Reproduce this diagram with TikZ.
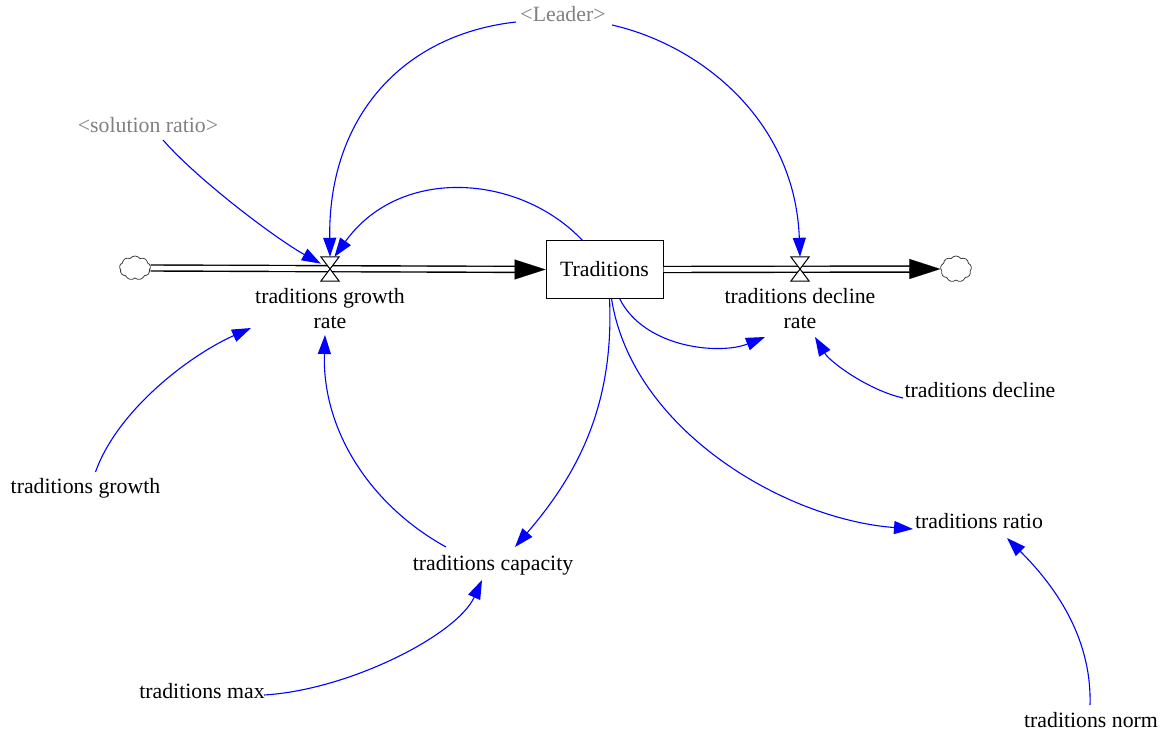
\documentclass[tikz,border=0pt]{standalone}
\usepackage{fontspec}
\setmainfont{Liberation Serif}
\newfontfamily\diagramfont{Liberation Serif}
\usetikzlibrary{arrows.meta,calc,shapes.symbols}
\definecolor{shadowgray}{RGB}{128,128,128}
\definecolor{linkblue}{RGB}{0,0,255}
\begin{document}
\begin{tikzpicture}[x=1pt,y=-1pt,
  every node/.style={font=\diagramfont\fontsize{21.8}{25}\selectfont},
  lbl/.style={anchor=base, inner sep=0pt, align=center},
  shadow/.style={lbl, text=shadowgray},
  link/.style={draw=linkblue, line width=1.1pt, -{Triangle[length=19pt,width=13pt]}},
  pipe/.style={draw=black, double=white, double distance=4.6pt, line width=1.4pt},
  flowhead/.style={line width=0.1pt, -{Triangle[length=31pt,width=20pt]}},
  stock/.style={draw, line width=1pt, minimum width=117pt, minimum height=57pt, inner sep=0pt},
  valve/.style={minimum width=18pt, minimum height=24pt, inner sep=0pt},
  source/.style={cloud, cloud puffs=9, cloud puff arc=110, aspect=1.3, draw=black!75, line width=0.8pt,
    minimum width=31pt, minimum height=24pt, inner sep=0pt, fill=white}]
\useasboundingbox (0,0) rectangle (1174,735);

% stock, clouds and valves
\node[stock] (trad) at (604.5,269.5) {Traditions};
\node[source] (cl) at (135,268) {};
\node[source, minimum height=26pt] (cr) at (956,269) {};
\node[valve] (gv) at (330,269) {};
\node[valve] (dv) at (800,269) {};

% flow pipes
\draw[pipe, shorten >=29pt] (cl.east) -- (trad.west);
\draw[flowhead] ([xshift=-31pt]trad.west) -- (trad.west);
\draw[pipe, shorten >=29pt] (trad.east) -- (cr.west);
\draw[flowhead] ([xshift=-31pt]cr.west) -- (cr.west);

% valve bow-ties
\foreach \v in {gv,dv}
  \filldraw[fill=white, draw=black, line width=1pt, line join=miter]
    (\v.north west) -- (\v.north east) -- (\v.south west) -- (\v.south east) -- cycle;

% variable names
\node[shadow] (sol) at (148,133) {<solution ratio>};
\node[shadow] (leader) at (563,22) {<Leader>};
\node[lbl] (gr) at (330,328) {traditions growth\\rate};
\node[lbl] (dr) at (800,328) {traditions decline\\rate};
\node[lbl] (td) at (980,397) {traditions decline};
\node[lbl] (tg) at (85.5,493) {traditions growth};
\node[lbl] (tr) at (979,528) {traditions ratio};
\node[lbl] (cap) at (493,570) {traditions capacity};
\node[lbl] (tm) at (202,698) {traditions max};
\node[lbl] (tn) at (1091,727) {traditions norm};

% information links
\draw[link] ($(leader.base)+(-47,0)$) .. controls +(-116,13) and +(-2,-137) .. (gv.north);
\draw[link] ($(leader.base)+(49,3)$) .. controls +(88,20) and +(-5,-137) .. (dv.north);
\draw[link] ($(sol.base)+(15,7)$) .. controls +(35,40) and +(-45,-25) .. (gv.150);
\draw[link] ([xshift=-22pt]trad.north) .. controls +(-62,-66) and +(66,-92) .. (gv.70);
\draw[link] ([xshift=15pt]trad.south) .. controls +(25,50) and +(-45,18) .. ($(dr.base)+(-35,9)$);
\draw[link] ($(td.base)+(-77,1)$) .. controls +(-35,-8) and +(15,25) .. ($(dr.base)+(15,9)$);
\draw[link] ($(tg.base)+(10,-21)$) .. controls +(22,-62) and +(-61,27) .. ($(gr.base)+(-79,0)$);
\draw[link] ($(cap.base)+(-47,-23)$) .. controls +(-76,-42) and +(-3,95) .. ($(gr.base)+(-5,7)$);
\draw[link] ([xshift=5pt]trad.south) .. controls +(5,110) and +(60,-70) .. ($(cap.base)+(22,-23)$);
\draw[link] ([xshift=7pt]trad.south) .. controls +(20,130) and +(-130,-10) .. ($(tr.base)+(-66,1)$);
\draw[link] ($(tm.base)+(62,-3)$) .. controls +(85,-5) and +(-25,55) .. ($(cap.base)+(-11,10)$);
\draw[link] ($(tn.base)+(-1,-22)$) .. controls +(2,-70) and +(45,45) .. ($(tr.base)+(28,10)$);
\end{tikzpicture}
\end{document}
